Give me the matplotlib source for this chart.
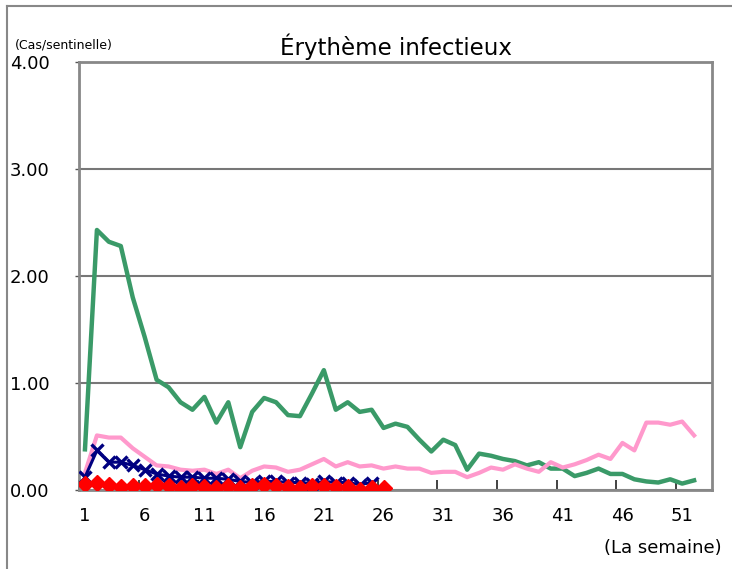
"""
Erytheme infectieux — cas par sentinelle, par semaine
"""
import matplotlib
matplotlib.use("Agg")
import matplotlib.pyplot as plt
import numpy as np

# semaines
weeks = list(range(1, 53))

# serie verte (annee complete)
green_vals = [0.38, 2.43, 2.32, 2.28, 1.80, 1.43, 1.03, 0.96, 0.82, 0.75,
              0.87, 0.63, 0.82, 0.40, 0.73, 0.86, 0.82, 0.70, 0.69, 0.90,
              1.12, 0.75, 0.82, 0.73, 0.75, 0.58, 0.62, 0.59, 0.47, 0.36,
              0.47, 0.42, 0.19, 0.34, 0.32, 0.29, 0.27, 0.23, 0.26, 0.20,
              0.20, 0.13, 0.16, 0.20, 0.15, 0.15, 0.10, 0.08, 0.07, 0.10,
              0.06, 0.09]

# serie rose
pink_vals = [0.16, 0.51, 0.49, 0.49, 0.39, 0.31, 0.23, 0.22, 0.19, 0.18,
             0.19, 0.15, 0.19, 0.11, 0.18, 0.22, 0.21, 0.17, 0.19, 0.24,
             0.29, 0.22, 0.26, 0.22, 0.23, 0.20, 0.22, 0.20, 0.20, 0.16,
             0.17, 0.17, 0.12, 0.16, 0.21, 0.19, 0.24, 0.20, 0.17, 0.26,
             0.21, 0.24, 0.28, 0.33, 0.29, 0.44, 0.37, 0.63, 0.63, 0.61,
             0.64, 0.51]

# serie bleue (semaines 1-25)
navy_vals = [0.12, 0.37, 0.26, 0.26, 0.23, 0.19, 0.15, 0.13, 0.12, 0.12,
             0.11, 0.11, 0.10, 0.08, 0.07, 0.08, 0.08, 0.07, 0.07, 0.06,
             0.08, 0.07, 0.07, 0.05, 0.07]

# serie rouge (semaines 1-26)
red_vals = [0.06, 0.07, 0.05, 0.03, 0.04, 0.04, 0.05, 0.04, 0.02, 0.04,
            0.03, 0.02, 0.04, 0.02, 0.04, 0.05, 0.04, 0.03, 0.02, 0.04,
            0.04, 0.03, 0.03, 0.00, 0.02, 0.02]

xtick_labels = ["1", "6", "11", "16", "21", "26", "31", "36", "41", "46", "51"]
ytick_vals = [0, 1, 2, 3, 4]

plt.rcParams["font.family"] = ["Liberation Sans Narrow", "DejaVu Sans"]

fig = plt.figure(figsize=(7.32, 5.69), dpi=100)
ax = fig.add_axes([79 / 732, 1 - 490 / 569, (712 - 79) / 732, (490 - 62) / 569])

ax.plot(weeks, green_vals, color="#3A9A68", lw=3.2, zorder=3)
ax.plot(weeks, pink_vals, color="#FF99CC", lw=3.0, zorder=4)
ax.plot(weeks[:len(navy_vals)], navy_vals, color="#000080", lw=2.2,
        marker="x", markersize=9, markeredgewidth=2.4, zorder=5)
ax.plot(weeks[:len(red_vals)], red_vals, color="#FF0000", lw=2.2,
        marker="D", markersize=8.5, zorder=6)

ax.set_xlim(0.5, 53.5)
ax.set_ylim(0, 4)

ax.set_yticks(ytick_vals)
ax.set_yticklabels([f"{v:.2f}" for v in ytick_vals], fontsize=13)
ax.tick_params(axis="y", length=3, width=1, color="#555555", pad=18)

ax.set_xticks([int(s) for s in xtick_labels])
ax.set_xticklabels(xtick_labels, fontsize=13)
ax.tick_params(axis="x", which="major", length=0, pad=12)
ax.set_xticks(np.arange(0.5, 54, 5), minor=True)
ax.tick_params(axis="x", which="minor", direction="in", length=7, width=1.2, color="#222222")

ax.grid(axis="y", color="#777777", lw=1.5)
ax.set_axisbelow(True)
for s in ax.spines.values():
    s.set_color("#888888")
    s.set_linewidth(2)

ax.set_title("Érythème infectieux", fontsize=16.5, family="DejaVu Sans", pad=5)
fig.text(15 / 732, 1 - 45 / 569, "(Cas/sentinelle)", fontsize=9, va="center", ha="left")
fig.text(722 / 732, 1 - 548 / 569, "(La semaine)", fontsize=13, va="center", ha="right")

# cadre exterieur
fig.add_artist(plt.Line2D([7 / 732, 7 / 732], [0, 1 - 6 / 569], transform=fig.transFigure,
                          color="#888888", lw=1.5))
fig.add_artist(plt.Line2D([7 / 732, 1], [1 - 6 / 569, 1 - 6 / 569], transform=fig.transFigure,
                          color="#888888", lw=1.5))

fig.savefig("out.png", dpi=100)
